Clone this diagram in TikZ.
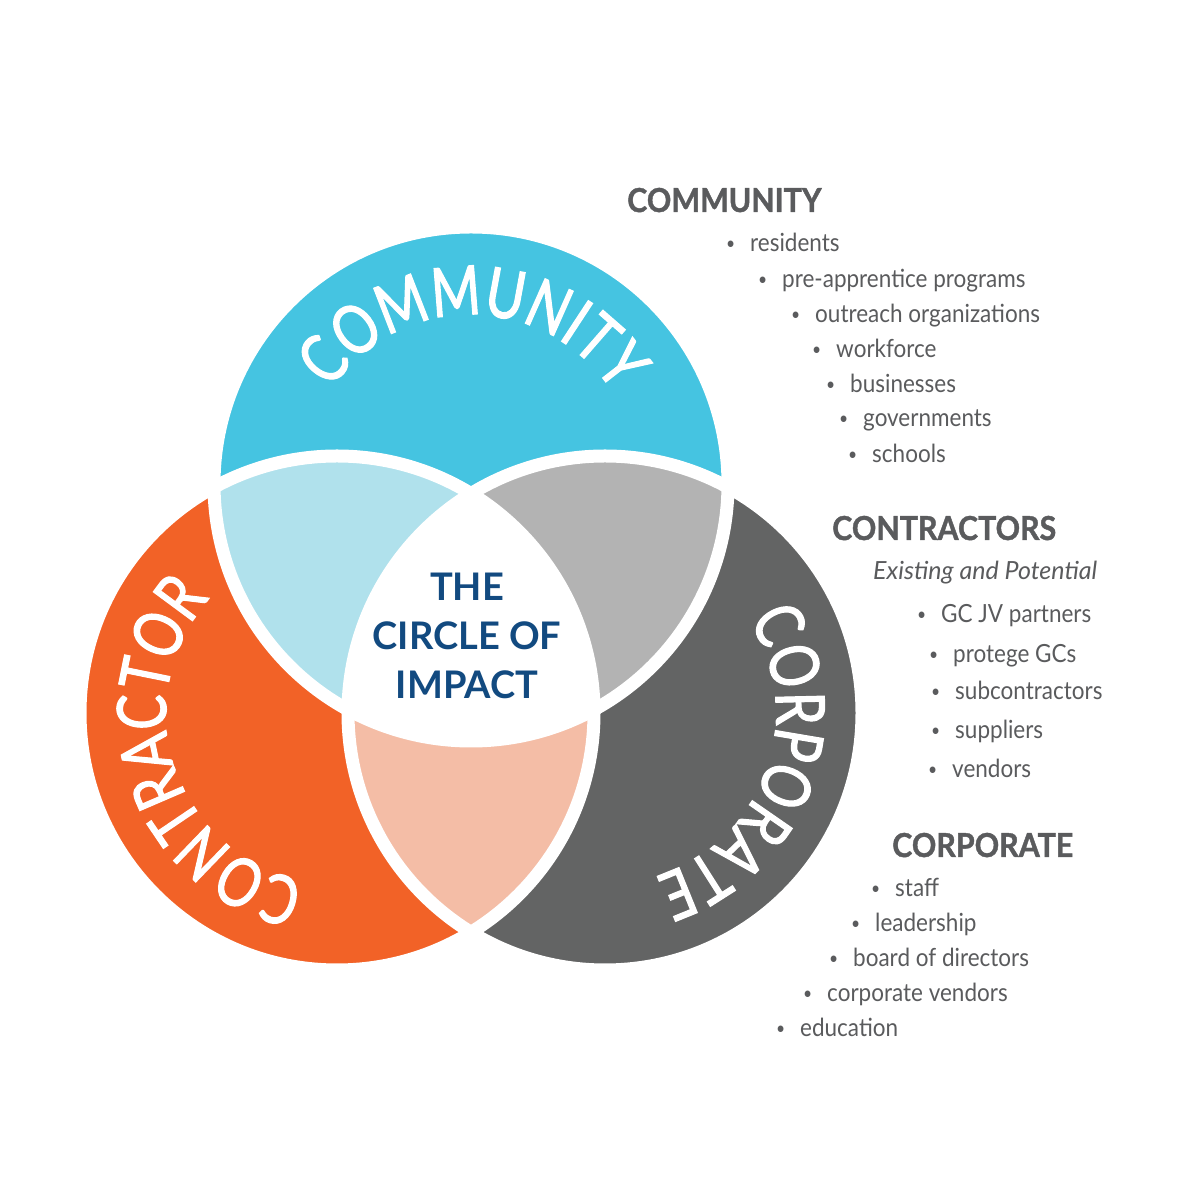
\documentclass[tikz,border=0pt]{standalone}
\usepackage{fontspec}
\usepackage{graphicx}
\setmainfont{Lato}
\newfontfamily\arcfont[FakeStretch=0.78,FakeBold=1.6]{Lato}
\newfontfamily\headfont[FakeStretch=0.92,FakeBold=1.2]{Lato}
\newfontfamily\listfont[FakeStretch=0.9]{Lato}
\usetikzlibrary{decorations.text,calc}
\definecolor{community}{HTML}{45C4E1}
\definecolor{contractor}{HTML}{F26227}
\definecolor{corporate}{HTML}{636464}
\definecolor{comcon}{HTML}{B0E1EC}
\definecolor{comcorp}{HTML}{B3B3B3}
\definecolor{concorp}{HTML}{F4BDA6}
\definecolor{impactblue}{HTML}{124A80}
\definecolor{textgray}{HTML}{5A5B5D}
\newcommand{\arcstyle}{\arcfont\fontsize{68}{68}\selectfont}
\newcommand{\itm}[1]{\llap{\raisebox{2.5pt}{\scalebox{0.7}{\textbullet}}\hspace{15pt}}#1}

\begin{document}
\begin{tikzpicture}[x=1pt, y=1pt,
  gapline/.style={draw=white, line width=13pt},
  heading/.style={anchor=base west, inner sep=0pt, text=textgray,
    font=\headfont\bfseries\fontsize{33}{33}\selectfont},
  listitem/.style={anchor=base west, inner sep=0pt, text=textgray,
    font=\listfont\fontsize{25}{25}\selectfont},
  arclabel/.style={decorate, decoration={text along path, text align=fit to path, text color=white}}]
  \fill[white] (0,0) rectangle (1200,1200);
  \useasboundingbox (0,0) rectangle (1200,1200);

  \coordinate (A) at (471,716);
  \coordinate (B) at (337,487);
  \coordinate (C) at (605,487);

  % the three circles
  \fill[community] (A) circle[radius=257];
  \fill[contractor] (B) circle[radius=257];
  \fill[corporate] (C) circle[radius=257];
  \begin{scope}
    \clip (A) circle[radius=257];
    \fill[comcon] (B) circle[radius=257];
    \fill[comcorp] (C) circle[radius=257];
  \end{scope}
  \begin{scope}
    \clip (B) circle[radius=257];
    \fill[concorp] (C) circle[radius=257];
    \clip (C) circle[radius=257];
    \fill[white] (A) circle[radius=257];
  \end{scope}
  \draw[gapline] (A) circle[radius=257];
  \draw[gapline] (B) circle[radius=257];
  \draw[gapline] (C) circle[radius=257];

  % curved names
  \path[arclabel, decoration={text={|\arcstyle|COMMUNITY}}]
    ($(A)+(146:169)$) arc[start angle=146, end angle=34, radius=169];
  \path[arclabel, decoration={text={|\arcstyle|CONTRACTOR}}]
    ($(B)+(259:171)$) arc[start angle=259, end angle=142, radius=171];
  \path[arclabel, decoration={text={|\arcstyle|CORPORATE}}]
    ($(C)+(33:171)$) arc[start angle=33, end angle=-73, radius=171];

  \node[align=center, inner sep=0pt, text=impactblue,
    font=\bfseries\fontsize{38}{49}\selectfont] (impact) at (467,564) {THE\\CIRCLE OF\\IMPACT};

  % community
  \node[heading] (comhead) at (627,988) {COMMUNITY};
  \node[listitem] (residents) at (750,948) {\itm{residents}};
  \node[listitem] (preapp) at (782,912) {\itm{pre-apprentice programs}};
  \node[listitem] (outreach) at (815,877) {\itm{outreach organizations}};
  \node[listitem] (workforce) at (836,842) {\itm{workforce}};
  \node[listitem] (businesses) at (850,807) {\itm{businesses}};
  \node[listitem] (governments) at (863,773) {\itm{governments}};
  \node[listitem] (schools) at (872,737) {\itm{schools}};

  % contractors
  \node[heading] (conhead) at (832,660) {CONTRACTORS};
  \node[listitem, font=\itshape\fontsize{25}{25}\selectfont] (existing) at (873,620) {Existing and Potential};
  \node[listitem] (gcjv) at (941,577) {\itm{GC JV partners}};
  \node[listitem] (protege) at (953,537) {\itm{protege GCs}};
  \node[listitem] (subcon) at (955,500) {\itm{subcontractors}};
  \node[listitem] (suppliers) at (955,461) {\itm{suppliers}};
  \node[listitem] (vendors) at (952,422) {\itm{vendors}};

  % corporate
  \node[heading] (corphead) at (892,343) {CORPORATE};
  \node[listitem] (staff) at (895,303) {\itm{staff}};
  \node[listitem] (leadership) at (875,268) {\itm{leadership}};
  \node[listitem] (board) at (853,233) {\itm{board of directors}};
  \node[listitem] (corpvendors) at (827,198) {\itm{corporate vendors}};
  \node[listitem] (education) at (800,163) {\itm{education}};
\end{tikzpicture}
\end{document}
